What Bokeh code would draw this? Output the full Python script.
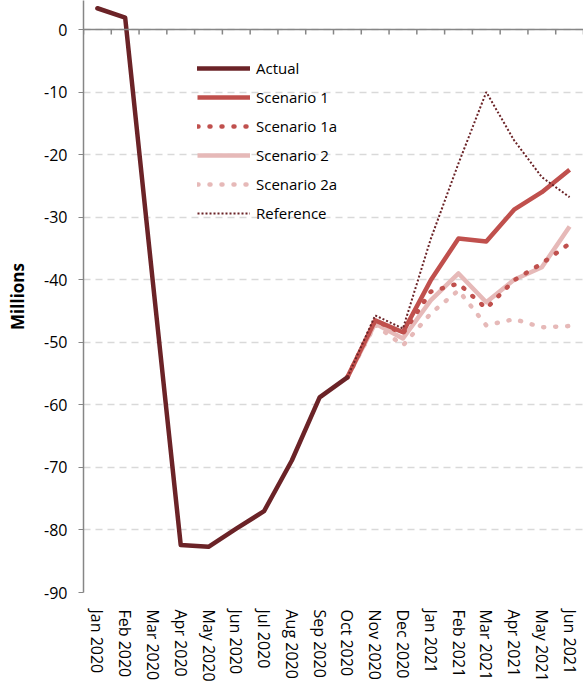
from bokeh.plotting import figure
from bokeh.models import Range1d, Span, FixedTicker, Legend, LegendItem
from bokeh.embed import file_html
from bokeh.resources import INLINE

categories = ["Jan 2020", "Feb 2020", "Mar 2020", "Apr 2020", "May 2020", "Jun 2020",
              "Jul 2020", "Aug 2020", "Sep 2020", "Oct 2020", "Nov 2020", "Dec 2020",
              "Jan 2021", "Feb 2021", "Mar 2021", "Apr 2021", "May 2021", "Jun 2021"]
actual = [3.4, 1.9, -40.5, -82.4, -82.7, -79.8, -77.0, -68.9, -58.8, -55.6]
scenario1 = [-55.6, -46.5, -48.4, -40.1, -33.4, -33.9, -28.8, -26.0, -22.4]
scenario1a = [-55.6, -46.5, -48.6, -41.9, -40.6, -44.6, -40.1, -37.4, -34.2]
scenario2 = [-55.6, -47.0, -49.4, -43.3, -39.0, -43.6, -40.0, -38.0, -31.5]
scenario2a = [-55.6, -47.2, -50.5, -45.4, -41.7, -47.3, -46.3, -47.6, -47.4]
reference = [-55.6, -45.7, -47.8, -33.5, -21.4, -10.0, -17.7, -23.6, -26.8]
y_ticks = [0, -10, -20, -30, -40, -50, -60, -70, -80, -90]
y_tick_labels = ["0", "-10", "-20", "-30", "-40", "-50", "-60", "-70", "-80", "-90"]

FONT = "Open Sans"
C_ACT = "#6B2327"
C_S1 = "#C0504D"
C_S2 = "#E6B9B8"

n = len(categories)
xpos = list(range(1, n + 1))                 # category centres
x_act = xpos[:len(actual)]
x_proj = xpos[n - len(scenario1):]

p = figure(x_range=Range1d(0.5, n + 0.5), y_range=Range1d(-90, 4.64),
           width=583, height=686, output_backend="svg", toolbar_location=None,
           min_border_left=83, min_border_right=0, min_border_top=0, min_border_bottom=94)
p.outline_line_color = None
p.background_fill_color = "white"

# grid
p.xgrid.grid_line_color = None
p.ygrid.ticker = FixedTicker(ticks=y_ticks)
p.ygrid.grid_line_color = "#D9D9D9"
p.ygrid.grid_line_dash = "7 5"
p.ygrid.grid_line_width = 1.5

# y axis
p.yaxis.ticker = FixedTicker(ticks=y_ticks)
p.yaxis.major_label_overrides = {t: s for t, s in zip(y_ticks, y_tick_labels)}
p.yaxis.axis_line_color = "#868686"
p.yaxis.axis_line_width = 1.5
p.yaxis.major_tick_line_color = "#868686"
p.yaxis.major_tick_out = 5
p.yaxis.major_tick_in = 0
p.yaxis.minor_tick_line_color = None
p.yaxis.major_label_text_font = FONT
p.yaxis.major_label_text_font_size = "16px"
p.yaxis.major_label_text_color = "#000000"
p.yaxis.major_label_standoff = 11
p.yaxis.axis_label = "Millions"
p.yaxis.axis_label_text_font = FONT
p.yaxis.axis_label_text_font_style = "bold"
p.yaxis.axis_label_text_font_size = "17px"
p.yaxis.axis_label_text_color = "#000000"
p.yaxis.axis_label_standoff = 12

# x axis (labels only, at bottom)
p.xaxis.ticker = FixedTicker(ticks=xpos)
p.xaxis.major_label_overrides = {x: c for x, c in zip(xpos, categories)}
p.xaxis.axis_line_color = None
p.xaxis.major_tick_line_color = None
p.xaxis.minor_tick_line_color = None
p.xaxis.major_label_orientation = "vertical"
p.xaxis.major_label_text_font = FONT
p.xaxis.major_label_text_font_size = "16px"
p.xaxis.major_label_text_color = "#000000"
p.xaxis.major_label_standoff = 11

# horizontal axis line at zero with tick marks between categories
p.add_layout(Span(location=0, dimension="width", line_color="#868686", line_width=1.5))
bounds = [x - 0.5 for x in xpos] + [n + 0.5]
p.segment(x0=bounds, x1=bounds, y0=[0] * len(bounds), y1=[-0.8] * len(bounds),
          line_color="#868686", line_width=1.5)

# series
r_s2 = p.line(x_proj, scenario2, line_color=C_S2, line_width=4.5, line_join="round")
r_s2a = p.line(x_proj, scenario2a, line_color=C_S2, line_width=4.5,
               line_dash="1 11", line_cap="round")
r_s1 = p.line(x_proj, scenario1, line_color=C_S1, line_width=4.5, line_join="round")
r_s1a = p.line(x_proj, scenario1a, line_color=C_S1, line_width=4.5,
               line_dash="1 11", line_cap="round")
r_ref = p.line(x_proj, reference, line_color=C_ACT, line_width=2, line_dash="2 2")
r_act = p.line(x_act, actual, line_color=C_ACT, line_width=4.5,
               line_join="round", line_cap="round")

legend = Legend(items=[
    LegendItem(label="Actual", renderers=[r_act]),
    LegendItem(label="Scenario 1", renderers=[r_s1]),
    LegendItem(label="Scenario 1a", renderers=[r_s1a]),
    LegendItem(label="Scenario 2", renderers=[r_s2]),
    LegendItem(label="Scenario 2a", renderers=[r_s2a]),
    LegendItem(label="Reference", renderers=[r_ref]),
], location=(114, 369))
legend.background_fill_alpha = 0
legend.border_line_color = None
legend.padding = 0
legend.margin = 0
legend.spacing = 9
legend.glyph_width = 53
legend.glyph_height = 20
legend.label_height = 20
legend.label_standoff = 6
legend.label_text_font = FONT
legend.label_text_font_size = "15px"
legend.label_text_color = "#000000"
p.add_layout(legend, "center")

open("out.html", "w").write(file_html(p, INLINE))
